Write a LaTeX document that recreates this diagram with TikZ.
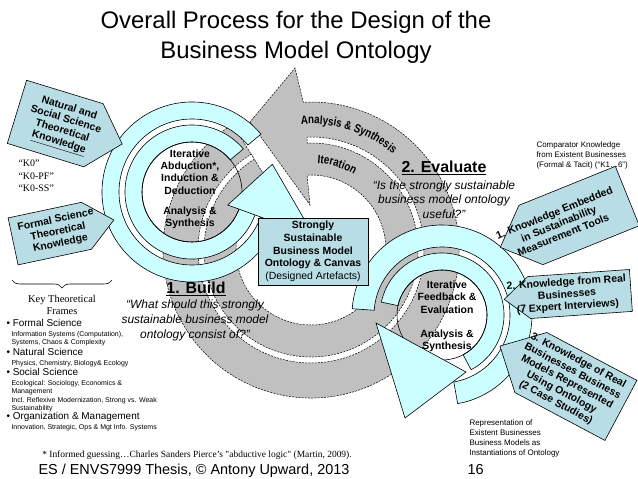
\documentclass[tikz,border=0pt]{standalone}
\usepackage{fontspec}
\setmainfont{Liberation Sans}
\newfontfamily\seriffont{Liberation Serif}
\newfontfamily\narrowfont[FakeStretch=0.82]{Liberation Sans}
\newcommand\arcfont{\narrowfont\bfseries\fontsize{12}{14}\selectfont}
\usetikzlibrary{calc,positioning,decorations.pathreplacing,decorations.text}

\definecolor{ringcyan}{HTML}{CCFFFF}
\definecolor{knowteal}{HTML}{B9DDE4}
\definecolor{iterpath}{HTML}{C0C0C0}

\tikzset{
  knowfill/.style={draw=black, line width=0.6pt, fill=knowteal},
  knowtext/.style={font=\bfseries\fontsize{10.5}{12}\selectfont, align=center, inner sep=0pt, transform shape},
  cyanring/.style={draw=black, line width=0.6pt, fill=ringcyan},
  iterband/.style={draw=black, line width=0.5pt, dash pattern=on 2pt off 1.2pt, fill=iterpath},
  cyclelabel/.style={font=\bfseries\fontsize{10.5}{12.5}\selectfont, align=center},
  stagehead/.style={font=\bfseries\fontsize{16}{18}\selectfont},
  question/.style={font=\itshape\fontsize{12}{15}\selectfont, align=center},
  smallnote/.style={font=\fontsize{8}{10}\selectfont, align=left, anchor=west},
  bullethead/.style={font=\fontsize{10}{11}\selectfont, anchor=west},
  bulletsub/.style={font=\fontsize{7}{8}\selectfont, align=left, anchor=north west},
}

\begin{document}
\begin{tikzpicture}[x=1bp,y=1bp]
\useasboundingbox (0,0) rectangle (638,-479);

% big iteration path
\coordinate (G) at (311,-250);
\filldraw[iterband] ($(G)+(122:148)$) arc[start angle=122,end angle=453,radius=148]
  -- (295,-68) -- (250,-122) -- (310,-205)
  -- ($(G)+(453:75)$) arc[start angle=453,end angle=122,radius=75] -- cycle;
\filldraw[iterband, fill=white] ($(G)+(122:107)$) arc[start angle=122,end angle=452,radius=107]
  -- ($(G)+(452:113)$) arc[start angle=452,end angle=122,radius=113] -- cycle;
\path[decorate, decoration={text along path, text align=center,
  text={|\arcfont|Analysis {\&} Synthesis}}]
  ($(G)+(110:126)$) arc[start angle=110,end angle=34,radius=126];
\path[decorate, decoration={text along path, text align=center,
  text={|\arcfont|Iteration}}]
  ($(G)+(104:87)$) arc[start angle=104,end angle=42,radius=87];

% build cycle
\coordinate (L) at (192,-192);
\draw[cyanring] ($(L)+(40:73)$) arc[start angle=40,end angle=342,radius=73]
  -- ($(L)+(342:90)$) arc[start angle=342,end angle=40,radius=90] -- cycle;
\draw[cyanring] ($(L)+(40:50)$) arc[start angle=40,end angle=342,radius=50]
  -- ($(L)+(342:67)$) arc[start angle=342,end angle=40,radius=67] -- cycle;
\draw[line width=0.6pt] (L) circle[radius=50];
\draw[cyanring] ($(L)+(340:38)$) -- ($(L)+(19:85)$) -- ($(L)+(340:130)$) -- cycle;

% evaluate cycle
\coordinate (R) at (442,-315);
\draw[cyanring] ($(R)+(-80:68)$) arc[start angle=-80,end angle=176,radius=68]
  -- ($(R)+(176:90)$) arc[start angle=176,end angle=-80,radius=90] -- cycle;
\draw[cyanring] ($(R)+(-62:45)$) arc[start angle=-62,end angle=168,radius=45]
  -- ($(R)+(168:62)$) arc[start angle=168,end angle=-62,radius=62] -- cycle;
\draw[line width=0.6pt] (R) circle[radius=45];
\draw[cyanring] (376,-323) -- (466,-372) -- (405,-418) -- cycle;

% designed artefacts
\node[draw, fill=knowteal, line width=0.6pt, minimum width=110bp, minimum height=65bp,
  font=\bfseries\fontsize{10.5}{12.7}\selectfont, align=center] (canvas) at (313,-251.5)
  {Strongly\\Sustainable\\Business Model\\Ontology \& Canvas\\{\mdseries (Designed Artefacts)}};

% knowledge inputs
\begin{scope}[shift={(60,-125)}, rotate=-17]
  \filldraw[knowfill] (-45,-33) -- (35,-33) -- (65,0) -- (35,33) -- (-45,33) -- cycle;
  \node[knowtext] (natsci) at (4,0) {Natural and\\Social Science\\Theoretical\\\underline{Knowledge}};
\end{scope}
\begin{scope}[shift={(62,-231)}, rotate=12]
  \filldraw[knowfill] (-50,-24) -- (25,-24) -- (53,0) -- (25,24) -- (-50,24) -- cycle;
  \node[knowtext] (formal) at (-4,0) {Formal Science\\Theoretical\\Knowledge};
\end{scope}
\begin{scope}[shift={(568,-220)}, rotate=22]
  \filldraw[knowfill] (-40,-32) -- (64,-32) -- (64,32) -- (-40,32) -- (-73,0) -- cycle;
  \node[knowtext] (embedded) at (-10,0) {1. Knowledge Embedded\\in Sustainability\\Measurement Tools};
\end{scope}
\begin{scope}[shift={(580,-294)}, rotate=4]
  \filldraw[knowfill] (-51,-21) -- (51,-21) -- (51,21) -- (-51,21) -- (-76,0) -- cycle;
  \node[knowtext] (realbiz) at (-13,0) {2. Knowledge from Real\\Businesses\\(7 Expert Interviews)};
\end{scope}
\begin{scope}[shift={(575,-386)}, rotate=-28]
  \filldraw[knowfill] (-50,-34) -- (52,-34) -- (52,34) -- (-50,34) -- (-85,0) -- cycle;
  \node[knowtext] (cases) at (-9,0) {3. Knowledge of Real\\Businesses Business\\Models Represented\\Using Ontology\\(2 Case Studies)};
\end{scope}

% cycle texts
\node[cyclelabel] (abduct) at (190,-172) {Iterative\\Abduction*,\\Induction \&\\Deduction};
\node[cyclelabel] (anasynL) at (190,-218) {Analysis \&\\Synthesis};
\node[cyclelabel] (feedback) at (447,-297) {Iterative\\Feedback \&\\Evaluation};
\node[cyclelabel] (anasynR) at (447,-341) {Analysis \&\\Synthesis};

\node[stagehead] (build) at (196,-289) {\underline{1. Build}};
\node[question] (buildq) at (195,-320) {“What should this strongly\\sustainable business model\\ontology consist of?”};
\node[stagehead] (evaluate) at (444,-168) {\underline{2. Evaluate}};
\node[question, font=\itshape\fontsize{12}{14.5}\selectfont] (evalq) at (444,-199.5) {“Is the strongly sustainable\\business model ontology\\useful?”};

% title
\node[font=\fontsize{24}{30}\selectfont, align=center] (title) at (296,-37)
  {Overall Process for the Design of the\\Business Model Ontology};

% left notes
\node[font=\seriffont\fontsize{10}{12.5}\selectfont, align=left, anchor=west] (kzero) at (15,-176)
  {“K0”\\“K0-PF”\\“K0-SS”};
\draw[decorate, decoration={brace, amplitude=8bp, mirror}, line width=0.6pt] (12,-280) -- (112,-280);
\node[font=\seriffont\fontsize{10.5}{12}\selectfont, align=center] (frames) at (62,-305) {Key Theoretical\\Frames};

\node[bullethead] (fs) at (3,-323) {• Formal Science};
\node[bulletsub] (fssub) at (8,-328) {Information Systems (Computation),\\Systems, Chaos \& Complexity};
\node[bullethead] (ns) at (3,-352) {• Natural Science};
\node[bulletsub] (nssub) at (8,-357) {Physics, Chemistry, Biology\& Ecology};
\node[bullethead] (ss) at (3,-372) {• Social Science};
\node[bulletsub] (sssub) at (8,-377) {Ecological: Sociology, Economics \&\\Management\\[1bp]Incl. Reflexive Modernization, Strong vs. Weak\\Sustainability};
\node[bullethead] (om) at (3,-417) {• Organization \& Management};
\node[bulletsub] (omsub) at (8,-421) {Innovation, Strategic, Ops \& Mgt Info. Systems};

% right notes
\node[smallnote] (comparator) at (533,-155) {Comparator Knowledge\\from Existent Businesses\\(Formal \& Tacit) (“K1…6”)};
\node[smallnote] (instances) at (466,-438) {Representation of\\Existent Businesses\\Business Models as\\Instantiations of Ontology};

% footer
\node[font=\seriffont\fontsize{9.5}{11}\selectfont] (footnote) at (197,-455)
  {* Informed guessing…Charles Sanders Pierce’s "abductive logic" (Martin, 2009).};
\node[font=\fontsize{14.5}{16}\selectfont] (credit) at (194,-471) {ES / ENVS7999 Thesis, © Antony Upward, 2013};
\node[font=\fontsize{14.5}{16}\selectfont, anchor=west] (slideno) at (464,-470) {16};
\end{tikzpicture}
\end{document}
